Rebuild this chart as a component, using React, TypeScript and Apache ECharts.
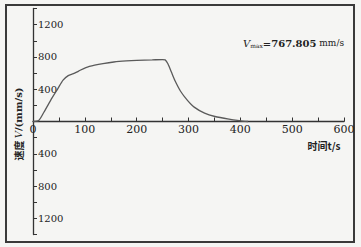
import React, { useEffect, useRef } from "react";
import * as echarts from "echarts";

const timeValues = [0, 11, 21, 34, 48, 58, 68, 78, 88, 102, 119, 135, 156, 180, 200, 230, 250, 255, 260, 267, 274, 285, 298, 311, 331, 351, 378, 398, 415];
const speedValues = [0, 12, 115, 262, 408, 512, 568, 592, 625, 668, 698, 718, 737, 750, 757, 763, 767.805, 764, 718, 612, 505, 372, 262, 178, 103, 62, 30, 12, 0];
const xTicks = [0, 100, 200, 300, 400, 500, 600];
const yLabelled = [-1200, -800, -400, 400, 800, 1200];
const annotation = { vmax: "767.805", unit: "mm/s" };
const xName = "时间t/s";

export default function App() {
  const ref = useRef<HTMLDivElement>(null);
  useEffect(() => {
    if (!ref.current) return;
    const chart = echarts.init(ref.current, null, { renderer: "svg" });
    const data = timeValues.map((t, i) => [t, speedValues[i]]);
    const axisColor = "#333";
    const top = 8.5;
    const bottom = 12.5;
    const plotH = 247 - top - bottom;
    const zeroOffset = -plotH / 2;
    chart.setOption({
      animation: false,
      backgroundColor: "#f5f5f3",
      grid: { left: 33, right: 17, top, bottom, containLabel: false },
      xAxis: {
        type: "value",
        position: "bottom",
        offset: zeroOffset,
        min: 0,
        max: 600,
        interval: 50,
        axisLine: { onZero: false, lineStyle: { color: axisColor, width: 1.3 } },
        axisTick: { inside: true, length: 4, lineStyle: { color: axisColor, width: 1 } },
        axisLabel: {
          color: "#222",
          fontFamily: "DejaVu Serif",
          fontSize: 11,
          margin: 2,
          formatter: (v: number) => (xTicks.includes(v) ? String(v) : ""),
        },
        splitLine: { show: false },
      },
      yAxis: {
        type: "value",
        min: -1400,
        max: 1400,
        interval: 200,
        axisLine: { lineStyle: { color: axisColor, width: 1.3 } },
        axisTick: { inside: true, length: 4, lineStyle: { color: axisColor, width: 1 } },
        axisLabel: {
          inside: true,
          color: "#222",
          fontFamily: "DejaVu Serif",
          fontSize: 10,
          margin: 5,
          formatter: (v: number) => (yLabelled.includes(v) ? String(Math.abs(v)) : ""),
        },
        splitLine: { show: false },
      },
      series: [
        {
          type: "line",
          data,
          showSymbol: false,
          smooth: 0.25,
          lineStyle: { color: "#5a5a5a", width: 1.3 },
        },
      ],
      graphic: [
        {
          type: "rect",
          shape: { x: 6, y: 5, width: 348, height: 237 },
          style: { fill: "none", stroke: "#3a3a3a", lineWidth: 2 },
          silent: true,
        },
        {
          type: "text",
          x: 243,
          y: 43,
          style: {
            text: "{v|V}{s|max}{n|=" + annotation.vmax + "}{u| " + annotation.unit + "}",
            textVerticalAlign: "middle",
            rich: {
              v: { fontFamily: "DejaVu Serif", fontStyle: "italic", fontSize: 10, fill: "#222" },
              s: { fontFamily: "DejaVu Serif", fontSize: 6, fill: "#222", verticalAlign: "bottom", padding: [4, 0, 0, 0] },
              n: { fontFamily: "DejaVu Serif", fontSize: 10, fontWeight: "bold", fill: "#222" },
              u: { fontFamily: "DejaVu Serif", fontSize: 9, fill: "#222" },
            },
          },
        },
        {
          type: "text",
          x: 324,
          y: 145,
          style: {
            text: xName,
            textAlign: "center",
            textVerticalAlign: "middle",
            font: "bold 10px 'Noto Sans CJK SC', 'DejaVu Serif'",
            fill: "#222",
          },
        },
        {
          type: "text",
          x: 18,
          y: 124,
          rotation: Math.PI / 2,
          style: {
            text: "{c|速度 }{v|V}{a|/(mm/s)}",
            textAlign: "center",
            textVerticalAlign: "middle",
            rich: {
              c: { fontFamily: "Noto Sans CJK SC", fontWeight: "bold", fontSize: 10, fill: "#222" },
              v: { fontFamily: "DejaVu Serif", fontStyle: "italic", fontSize: 10, fill: "#222" },
              a: { fontFamily: "DejaVu Serif", fontWeight: "bold", fontSize: 10, fill: "#222" },
            },
          },
        },
      ],
    });
    return () => chart.dispose();
  }, []);
  return (
    <div
      ref={ref}
      style={{ position: "fixed", left: 0, top: 0, width: 361, height: 247 }}
    />
  );
}
